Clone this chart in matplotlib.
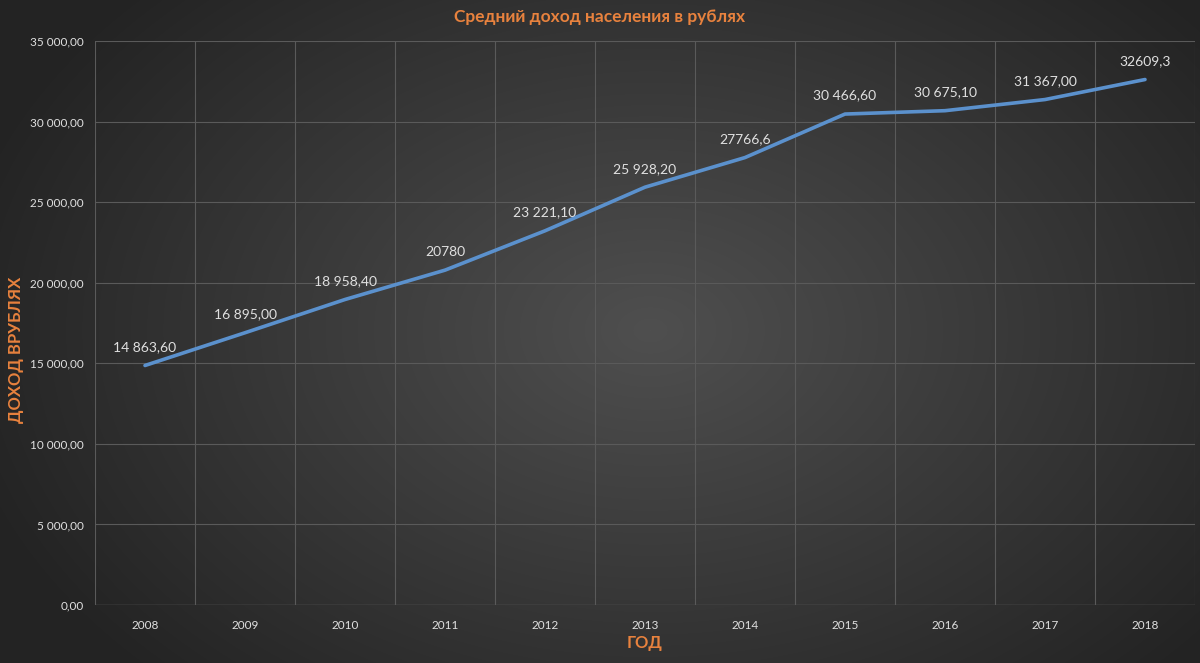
import numpy as np
import matplotlib
matplotlib.use("Agg")
import matplotlib.pyplot as plt
from matplotlib.ticker import FuncFormatter, MultipleLocator

plt.rcParams['font.family'] = ['Lato', 'Open Sans', 'DejaVu Sans']

years = ["2008", "2009", "2010", "2011", "2012", "2013", "2014", "2015", "2016", "2017", "2018"]
income = [14863.6, 16895.0, 18958.4, 20780.0, 23221.1, 25928.2, 27766.6, 30466.6, 30675.1, 31367.0, 32609.3]
point_labels = ["14 863,60", "16 895,00", "18 958,40", "20780", "23 221,10", "25 928,20",
                "27766,6", "30 466,60", "30 675,10", "31 367,00", "32609,3"]

title_text = "Средний доход населения в рублях"
ylabel_text = "ДОХОД ВРУБЛЯХ"
xlabel_text = "ГОД"

orange = "#e8823e"
txt = "#e0e0e0"
grid_c = "#5a5a5a"

fig = plt.figure(figsize=(12, 6.63), dpi=100)

# radial gradient background
bg = fig.add_axes([0, 0, 1, 1])
yy, xx = np.mgrid[0:663, 0:1200]
r = np.sqrt(((xx - 650) / 620.0) ** 2 + ((yy - 330) / 430.0) ** 2)
shade = np.clip(0.31 - 0.15 * r, 0.14, 0.31)
bg.imshow(np.dstack([shade, shade, shade]), aspect='auto', extent=[0, 1, 0, 1])
bg.axis('off')

ax = fig.add_axes([95 / 1200, 1 - 605 / 663, 1100 / 1200, 564 / 663])
ax.patch.set_alpha(0)
x = np.arange(len(years))
ax.plot(x, income, color="#5b91cd", lw=2.6, solid_capstyle='round', zorder=3)
for xi, v, lab in zip(x, income, point_labels):
    ax.annotate(lab, (xi, v), xytext=(0, 9), textcoords='offset points',
                ha='center', va='bottom', color=txt, fontsize=10)

ax.set_xlim(-0.5, len(years) - 0.5)
ax.set_ylim(0, 35000)
ax.set_xticks(x)
ax.set_xticklabels(years)
ax.set_xticks(np.arange(-0.5, len(years)), minor=True)
ax.yaxis.set_major_locator(MultipleLocator(5000))
ax.yaxis.set_major_formatter(FuncFormatter(lambda v, p: f"{v:,.2f}".replace(",", " ").replace(".", ",")))
ax.grid(True, axis='y', which='major', color=grid_c, lw=0.8)
ax.grid(True, axis='x', which='minor', color=grid_c, lw=0.8)
ax.tick_params(axis='both', which='both', length=0, colors=txt, labelsize=8.5)
ax.tick_params(axis='x', pad=11)
ax.tick_params(axis='y', pad=8)
for s in ax.spines.values():
    s.set_visible(False)
ax.axhline(0, color=grid_c, lw=1)

fig.text(0.5, 1 - 17 / 663, title_text, ha='center', va='center', color=orange,
         fontsize=12.5, fontweight='bold')
fig.text(16 / 1200, 1 - 350 / 663, ylabel_text, ha='center', va='center', rotation=90,
         color=orange, fontsize=12, fontweight='bold')
fig.text(645 / 1200, 1 - 643 / 663, xlabel_text, ha='center', va='center', color=orange,
         fontsize=12, fontweight='bold')

fig.savefig("out.png", dpi=100)
